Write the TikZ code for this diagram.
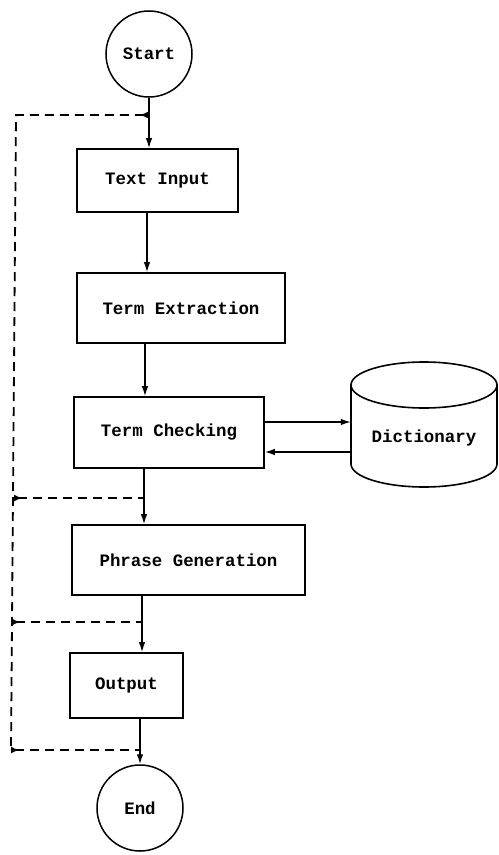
\documentclass[tikz,border=0pt]{standalone}
\usepackage{fontspec}
\setmonofont{Liberation Mono}
\usetikzlibrary{arrows.meta}
\begin{document}
\begin{tikzpicture}[x=1bp,y=-1bp,
  label font/.style={font=\fontsize{17.5}{20}\selectfont\ttfamily\bfseries},
  stepbox/.style={draw, rectangle, line width=1.6bp, inner sep=0pt, label font},
  term/.style={draw, circle, minimum size=86bp, inner sep=0pt, line width=1.5bp, label font},
  flow/.style={line width=1.4bp, -{Latex[length=10bp,width=6.5bp]}},
  loopline/.style={line width=1.8bp, dash pattern=on 9bp off 6bp},
  tail/.style={{Latex[reversed,length=8bp,width=7bp]}-},
  drum/.style={line width=1.6bp}]
\useasboundingbox (0,0) rectangle (499,855);

% terminals and processing steps
\node[term] (start) at (149,54) {Start};
\node[stepbox, minimum width=161bp, minimum height=63bp] (tin) at (157.5,180.5) {Text Input};
\node[stepbox, minimum width=208bp, minimum height=70bp] (tex) at (181,308) {Term Extraction};
\node[stepbox, minimum width=190bp, minimum height=71bp] (tck) at (169,432.5) {Term Checking};
\node[stepbox, minimum width=233bp, minimum height=70bp] (phr) at (188.5,560) {Phrase Generation};
\node[stepbox, minimum width=113bp, minimum height=65bp] (out) at (126.5,685.5) {Output};
\node[term] (end) at (140,808) {End};

% dictionary store (drawn as a drum)
\node[label font, minimum width=146bp, inner sep=0pt] (dict) at (424,438) {Dictionary};
\draw[drum] (351,385) -- (351,464) arc[start angle=180, end angle=0, x radius=73, y radius=23] -- (497,385);
\draw[drum] (424,385) ellipse[x radius=73, y radius=23];

% main flow column
\coordinate (c2) at (147,0);
\coordinate (c3) at (145,0);
\coordinate (c4) at (144,0);
\coordinate (c5) at (142,0);
\draw[flow] (start.south) -- (start.south |- tin.north);
\draw[flow] (tin.south -| c2) -- (tex.north -| c2);
\draw[flow] (tex.south -| c3) -- (tck.north -| c3);
\draw[flow] (tck.south -| c4) -- (phr.north -| c4);
\draw[flow] (phr.south -| c5) -- (out.north -| c5);
\draw[flow] (end.north |- out.south) -- (end.north);

% dictionary look-up and reply
\coordinate (y1) at (0,422);
\coordinate (y2) at (0,452);
\draw[flow] (tck.east |- y1) -- (dict.west |- y1);
\draw[flow] (dict.west |- y2) -- (tck.east |- y2);

% dashed bypass bus on the left
\coordinate (j0) at (148,115);
\coordinate (b0) at (16,115);
\coordinate (b1) at (14,498);
\coordinate (j1) at (144,498);
\coordinate (b2) at (12,622);
\coordinate (j2) at (142,622);
\coordinate (b3) at (11,750);
\coordinate (j3) at (140,750);
\draw[loopline, tail] (j0) -- (b0) -- (b3);
\draw[loopline, tail] (b1) -- (j1);
\draw[loopline, tail] (b2) -- (j2);
\draw[loopline, tail] (b3) -- (j3);
\end{tikzpicture}
\end{document}
